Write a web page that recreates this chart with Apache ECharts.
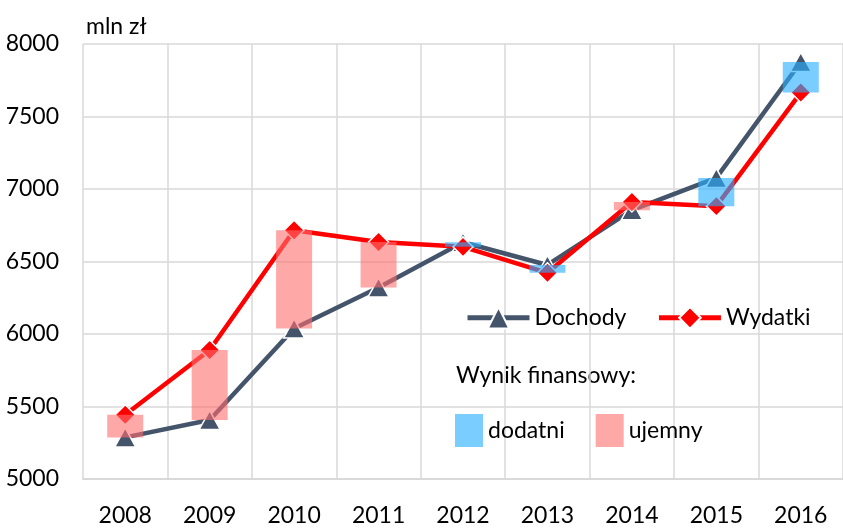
<!DOCTYPE html>
<html><head><meta charset="utf-8">
<script src="https://cdn.jsdelivr.net/npm/echarts@6/dist/echarts.min.js"></script>
<style>html,body{margin:0;padding:0;background:#fff}#c{width:843px;height:528px}</style>
</head><body><div id="c"></div>
<script>
const years = ['2008','2009','2010','2011','2012','2013','2014','2015','2016'];
const dochody = [5285, 5405, 6037, 6320, 6632, 6475, 6853, 7076, 7876];
const wydatki = [5441, 5888, 6715, 6634, 6600, 6421, 6910, 6881, 7665];
const yTicks = [5000, 5500, 6000, 6500, 7000, 7500, 8000];
const unitLabel = 'mln zł';

const FONT = 'Lato, "Open Sans", sans-serif';
const FS = 23;
const base = years.map((y, i) => Math.min(dochody[i], wydatki[i]));
const pos = years.map((y, i) => dochody[i] > wydatki[i] ? dochody[i] - wydatki[i] : '-');
const neg = years.map((y, i) => wydatki[i] >= dochody[i] ? wydatki[i] - dochody[i] : '-');

const chart = echarts.init(document.getElementById('c'), null, {renderer: 'canvas'});
chart.setOption({
  animation: false,
  backgroundColor: '#fff',
  textStyle: {fontFamily: FONT},
  grid: {left: 83, right: -4, top: 44, bottom: 49.3, containLabel: false},
  xAxis: {
    type: 'category', data: years, boundaryGap: true,
    axisLine: {lineStyle: {color: '#D9D9D9', width: 2}},
    axisTick: {show: false},
    axisLabel: {color: '#000', fontSize: FS, fontFamily: FONT, margin: 25},
    splitLine: {show: true, lineStyle: {color: '#D9D9D9', width: 1.5}}
  },
  yAxis: {
    type: 'value', min: yTicks[0], max: yTicks[yTicks.length - 1], interval: 500,
    name: unitLabel, nameLocation: 'end', nameGap: 6,
    nameTextStyle: {color: '#000', fontSize: FS, fontFamily: FONT, align: 'left', padding: [0, 0, 0, 3]},
    axisLine: {show: false}, axisTick: {show: false},
    axisLabel: {color: '#000', fontSize: FS, fontFamily: FONT, margin: 24, formatter: v => String(v)},
    splitLine: {lineStyle: {color: '#D9D9D9', width: 1.5}}
  },
  legend: [
    {
      data: [
        {name: 'Dochody', lineStyle: {width: 5}},
        {name: 'Wydatki', lineStyle: {width: 5}}
      ],
      left: 465, top: 306, padding: 0, itemWidth: 62, itemHeight: 27, itemGap: 30,
      selectedMode: false,
      textStyle: {color: '#000', fontSize: FS, fontFamily: FONT, padding: [0, 0, 0, 0]}
    },
    {
      data: ['dodatni', 'ujemny'], left: 455, top: 414, padding: 0, itemWidth: 28, itemHeight: 33, itemGap: 31,
      icon: 'rect', selectedMode: false,
      textStyle: {color: '#000', fontSize: FS, fontFamily: FONT}
    }
  ],
  graphic: [{
    type: 'text', left: 456, top: 364,
    style: {text: 'Wynik finansowy:', fill: '#000', font: FS + 'px ' + FONT}
  }],
  series: [
    {
      name: 'Dochody', type: 'line', data: dochody, z: 3,
      symbol: 'triangle', symbolSize: [21, 19],
      lineStyle: {color: '#44546A', width: 4.5},
      itemStyle: {color: '#44546A', borderColor: '#fff', borderWidth: 1.5}
    },
    {
      name: 'Wydatki', type: 'line', data: wydatki, z: 4,
      symbol: 'diamond', symbolSize: [20, 20],
      lineStyle: {color: '#FF0000', width: 4.5},
      itemStyle: {color: '#FF0000', borderColor: '#fff', borderWidth: 1.5}
    },
    {
      name: 'base', type: 'bar', stack: 'wynik', data: base, barWidth: 36, z: 5,
      itemStyle: {color: 'rgba(0,0,0,0)'}, silent: true
    },
    {
      name: 'dodatni', type: 'bar', stack: 'wynik', data: pos, barWidth: 36, z: 5,
      itemStyle: {color: 'rgba(40,175,255,0.62)'}
    },
    {
      name: 'ujemny', type: 'bar', stack: 'wynik', data: neg, barWidth: 36, z: 5,
      itemStyle: {color: 'rgba(255,110,110,0.6)'}
    }
  ]
});
</script></body></html>
